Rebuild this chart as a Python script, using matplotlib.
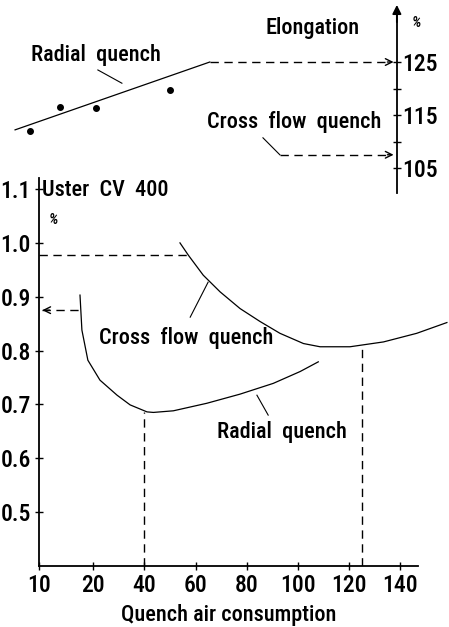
import numpy as np
import matplotlib
matplotlib.use('Agg')
import matplotlib.pyplot as plt
from matplotlib import font_manager

# pick a narrow sans face if one is installed
names = {f.name for f in font_manager.fontManager.ttflist}
if 'Roboto Condensed' in names:
    plt.rcParams['font.family'] = ['Roboto Condensed', 'DejaVu Sans']
    fs = 16
elif 'Liberation Sans Narrow' in names:
    plt.rcParams['font.family'] = ['Liberation Sans Narrow', 'DejaVu Sans']
    fs = 16
else:
    plt.rcParams['font.family'] = ['Roboto', 'DejaVu Sans']
    fs = 13
plt.rcParams['font.size'] = fs
plt.rcParams['font.weight'] = 'medium'
plt.rcParams['axes.labelweight'] = 'medium'

# --- data ---
# lower panel: Uster CV 400 (%) vs quench air consumption
cross_x = [53.9, 57.2, 63.0, 69.6, 77.4, 85.2, 93.0, 102.2, 108.7, 120.4, 133.5, 146.5, 158.3]
cross_y = [1.000, 0.977, 0.940, 0.909, 0.878, 0.854, 0.832, 0.813, 0.807, 0.807, 0.816, 0.832, 0.852]
radial_x = [17.55, 17.9, 19.0, 22.6, 29.3, 34.4, 41.0, 43.5, 51.3, 64.4, 77.4, 90.4, 100.9, 108.0]
radial_y = [0.903, 0.838, 0.782, 0.745, 0.717, 0.699, 0.686, 0.685, 0.688, 0.702, 0.719, 0.739, 0.761, 0.779]
cross_opt = (125, 0.807)    # optimum of cross flow quench
radial_opt = (40, 0.686)    # optimum of radial quench
cross_level = 0.977         # CV level at start of cross flow curve
radial_level = 0.875        # CV level at start of radial curve

# upper panel: elongation (%)
elong_pts_x = [-4.8, 7.0, 20.9, 50.0]
elong_pts_y = [112.0, 116.6, 116.3, 119.7]
elong_fit_x = [-10.6, 65.6]
elong_fit_y = [112.2, 125.0]
elong_cross = 107.5
elong_ticks = [105, 110, 115, 120, 125]
elong_labels = ['105', '', '115', '', '125']

x_ticks = [10, 20, 40, 60, 80, 100, 120, 140]
y_ticks = [0.5, 0.6, 0.7, 0.8, 0.9, 1.0, 1.1]


# x axis: first interval (10-20) is drawn wider than the rest
def fwd(x):
    x = np.asarray(x, dtype=float)
    return np.where(x < 20, 20 - (20 - x) * 2.124, x)


def inv(u):
    u = np.asarray(u, dtype=float)
    return np.where(u < 20, 20 - (20 - u) / 2.124, u)


fig = plt.figure(figsize=(4.49, 6.27), dpi=100)
dash = (0, (6, 4))

# ---------------- lower panel ----------------
ax = fig.add_axes([39 / 449, 0.0976, (418 - 39) / 449, 0.618])
ax.set_xscale('function', functions=(fwd, inv))
ax.set_xlim(10, 147)
ax.set_ylim(0.4, 1.12)
for s in ['top', 'right']:
    ax.spines[s].set_visible(False)
for s in ['left', 'bottom']:
    ax.spines[s].set_linewidth(1.3)
ax.set_xticks(x_ticks)
ax.set_xticklabels([str(v) for v in x_ticks])
ax.set_yticks(y_ticks)
ax.set_yticklabels(['%.1f' % v for v in y_ticks])
ax.tick_params(direction='inout', length=6, width=1, pad=3, labelsize=17)
ax.minorticks_off()
ax.set_xlabel('Quench air consumption', labelpad=5)

ax.plot(cross_x, cross_y, color='k', lw=0.9, clip_on=False)
ax.plot(radial_x, radial_y, color='k', lw=0.9, clip_on=False)

# guide lines
ax.plot([cross_opt[0], cross_opt[0]], [0.4, cross_opt[1]], color='k', lw=1, ls=dash)
ax.plot([radial_opt[0], radial_opt[0]], [0.4, radial_opt[1]], color='k', lw=1, ls=dash)
ax.plot([10, cross_x[1]], [cross_level, cross_level], color='k', lw=1, ls=dash, clip_on=False)
ax.plot([10.6, radial_x[0]], [radial_level, radial_level], color='k', lw=1, ls=dash)
ax.annotate('', xy=(10.1, radial_level), xytext=(12.5, radial_level),
            arrowprops=dict(arrowstyle='->', color='k', lw=1, mutation_scale=12))

ax.text(10.55, 1.098, 'Uster  CV  400', ha='left', va='center')
ax.text(12.6, 1.042, '%', ha='center', va='center', fontsize=11, style='italic')
ax.text(56.3, 0.823, 'Cross  flow  quench', ha='center', va='center')
ax.plot([57.9, 64.9], [0.862, 0.927], color='k', lw=0.8)
ax.text(93.8, 0.649, 'Radial  quench', ha='center', va='center')
ax.plot([84.0, 88.4], [0.717, 0.680], color='k', lw=0.8)

# ---------------- upper panel ----------------
at = fig.add_axes([0, 1 - 195 / 627, 1, 195 / 627])
at.patch.set_alpha(0)
at.set_xlim(-16.5, 159.2)
at.set_ylim(99.91, 136.7)
for s in ['top', 'left', 'bottom']:
    at.spines[s].set_visible(False)
at.spines['right'].set_position(('data', 138.8))
at.spines['right'].set_bounds(100.3, 134.5)
at.spines['right'].set_linewidth(1.3)
at.set_xticks([])
at.yaxis.tick_right()
at.set_yticks(elong_ticks)
at.set_yticklabels(elong_labels)
at.tick_params(axis='y', direction='inout', length=6, width=1, pad=1, labelsize=17)
at.annotate('', xy=(138.8, 136.3), xytext=(138.8, 132.0),
            arrowprops=dict(arrowstyle='-|>', color='k', lw=1.3, mutation_scale=13))

at.plot(elong_fit_x, elong_fit_y, color='k', lw=0.9, clip_on=False)
at.plot(elong_pts_x, elong_pts_y, 'o', color='k', ms=4, clip_on=False)

at.plot([elong_fit_x[1], 136.0], [elong_fit_y[1], elong_fit_y[1]], color='k', lw=1, ls=dash)
at.annotate('', xy=(138.6, elong_fit_y[1]), xytext=(134.0, elong_fit_y[1]),
            arrowprops=dict(arrowstyle='->', color='k', lw=1, mutation_scale=12))
at.plot([93.0, 136.0], [elong_cross, elong_cross], color='k', lw=1, ls=dash)
at.annotate('', xy=(138.6, elong_cross), xytext=(134.0, elong_cross),
            arrowprops=dict(arrowstyle='->', color='k', lw=1, mutation_scale=12))

at.text(106.0, 131.4, 'Elongation', ha='center', va='center')
at.text(146.6, 132.4, '%', ha='center', va='center', fontsize=11, style='italic')
at.text(21.0, 126.3, 'Radial  quench', ha='center', va='center')
at.plot([21.8, 31.2], [123.5, 121.0], color='k', lw=0.8)
at.text(98.5, 113.7, 'Cross  flow  quench', ha='center', va='center')
at.plot([86.4, 93.0], [110.7, elong_cross], color='k', lw=0.8)

fig.savefig('out.png', dpi=100)
plt.close(fig)
